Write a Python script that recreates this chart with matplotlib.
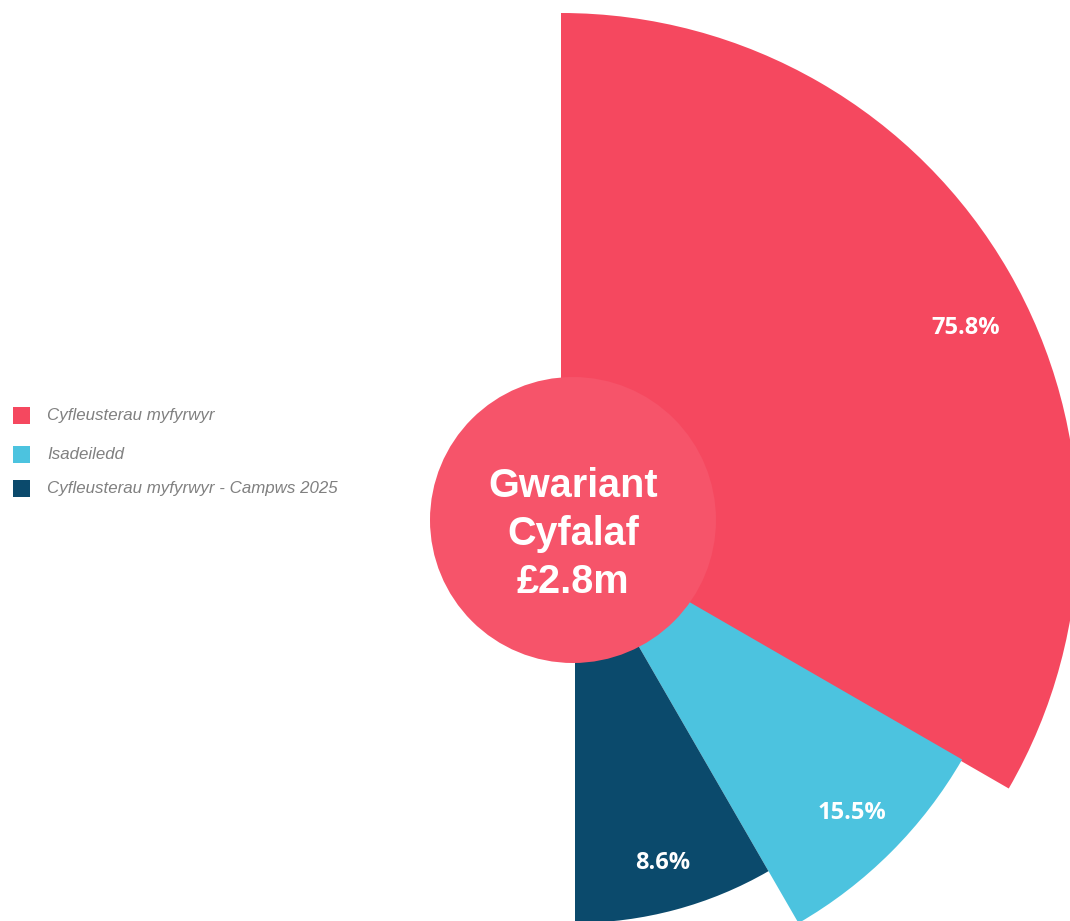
import matplotlib
matplotlib.use("Agg")
import matplotlib.pyplot as plt
from matplotlib.patches import Wedge, Circle, Rectangle
import numpy as np

# data
categories = ["Cyfleusterau myfyrwyr", "Isadeiledd", "Cyfleusterau myfyrwyr - Campws 2025"]
shares = [75.8, 15.5, 8.6]
centre_lines = ["Gwariant", "Cyfalaf", "£2.8m"]

# layout (pixels, y measured downwards from top of image)
W, H = 1070, 921
colours = ["#f5485f", "#4cc3df", "#0b4a6c"]
spans = [120, 30, 30]                       # degrees, clockwise from 12 o'clock
radii = [517, 447, 387]
centres = [(561, 530), (575, 536), (575, 536)]
label_shift = [-3.5, 0, 0]                  # small nudge of label angle
circle_xy, circle_r = (573, 520), 143

fig = plt.figure(figsize=(W / 100, H / 100), dpi=100)
ax = fig.add_axes([0, 0, 1, 1])
ax.set_xlim(0, W)
ax.set_ylim(0, H)
ax.set_aspect("equal")
ax.axis("off")

start = 90
for i, val in enumerate(shares):
    cx, cy = centres[i]
    cy = H - cy
    t2 = start
    t1 = start - spans[i]
    ax.add_patch(Wedge((cx, cy), radii[i], t1, t2, facecolor=colours[i], edgecolor="none"))
    mid = np.deg2rad((t1 + t2) / 2 + label_shift[i])
    r = radii[i] * 0.875
    ax.text(cx + r * np.cos(mid), cy + r * np.sin(mid), f"{val}%",
            color="white", fontsize=17, fontweight="bold", family="Open Sans",
            ha="center", va="center")
    start = t1

# centre circle
ax.add_patch(Circle((circle_xy[0], H - circle_xy[1]), circle_r, facecolor="#f6546a", edgecolor="none"))
for j, line in enumerate(centre_lines):
    ax.text(circle_xy[0], H - (486 + j * 48), line, color="white", fontsize=28.5,
            fontweight="bold", family="Liberation Sans", ha="center", va="center")

# legend
leg_y = [416, 455, 489]
for i, cat in enumerate(categories):
    ax.add_patch(Rectangle((13, H - leg_y[i] - 8.5), 17, 17, facecolor=colours[i], edgecolor="none"))
    ax.text(47, H - leg_y[i], cat, color="#808080", fontsize=12.2, style="italic",
            family="Liberation Sans", ha="left", va="center")

fig.savefig("out.png", dpi=100, facecolor="white")
